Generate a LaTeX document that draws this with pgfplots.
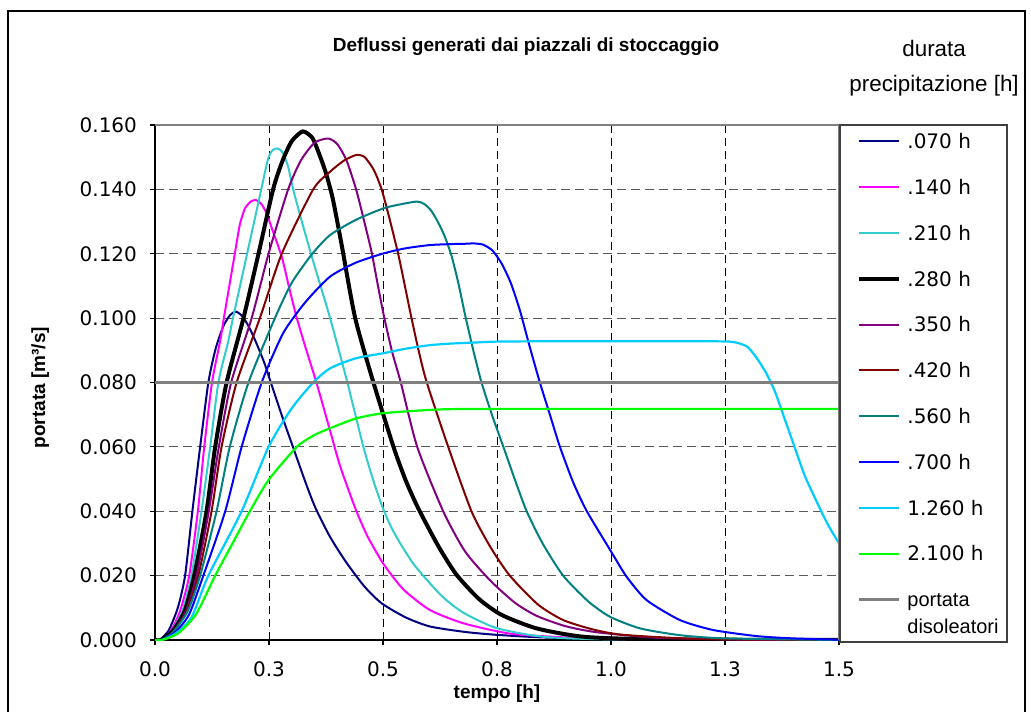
\documentclass[border=0pt]{standalone}
\usepackage{fontspec}
\setmainfont{DejaVu Sans}
\newfontfamily\lib{Liberation Sans}
\usepackage{pgfplots}
\pgfplotsset{compat=1.18}
\definecolor{cNavy}{HTML}{000080}
\definecolor{cMag}{HTML}{FF00FF}
\definecolor{cTurq}{HTML}{33CCCC}
\definecolor{cPurp}{HTML}{800080}
\definecolor{cDred}{HTML}{800000}
\definecolor{cTeal}{HTML}{008080}
\definecolor{cBlue}{HTML}{0000FF}
\definecolor{cLblue}{HTML}{00CCFF}
\definecolor{cGreen}{HTML}{00FF00}
\definecolor{cGray}{HTML}{808080}
\begin{document}
\begin{tikzpicture}
\useasboundingbox (0,0) rectangle (515.5pt,355.5pt);
\begin{axis}[
  at={(77.5pt,35.5pt)}, anchor=south west,
  scale only axis, width=342pt, height=257.5pt,
  xmin=0, xmax=1.5, ymin=0, ymax=0.16,
  axis x line*=bottom, axis y line*=left,
  axis line style={black, line width=0.6pt},
  xtick={0,0.25,0.5,0.75,1,1.25,1.5},
  xticklabels={0.0,0.3,0.5,0.8,1.0,1.3,1.5},
  ytick={0,0.02,0.04,0.06,0.08,0.1,0.12,0.14,0.16},
  yticklabels={0.000,0.020,0.040,0.060,0.080,0.100,0.120,0.140,0.160},
  tick align=outside, major tick length=2.5pt,
  tick style={black, line width=0.6pt},
  grid=major,
  x grid style={black, line width=0.5pt, dash pattern=on 4pt off 2.5pt},
  y grid style={black!65, line width=0.6pt, dash pattern=on 4.5pt off 2.5pt},
  ticklabel style={font=\fontsize{10}{12}\selectfont},
  /pgf/number format/assume math mode=true,
  xticklabel style={yshift=-5pt},
  yticklabel style={xshift=-3pt},
  clip mode=individual,
  every axis plot/.append style={smooth, tension=0.4},
  legend cell align=left,
  legend style={draw=none, fill=none, at={(axis description cs:1.0263,0.9994)}, anchor=north west,
    inner sep=0pt, row sep=7.2pt, column sep=0pt,
    nodes={inner xsep=3pt, inner ysep=3pt, text height=8.5pt, text depth=1.2pt,
      font=\fontsize{10}{13.5}\selectfont}},
  legend image code/.code={\draw[#1,sharp plot] (0pt,0pt) -- (20pt,0pt);},
]
\addplot[cNavy, line width=1pt] coordinates {(0,0)(0.01,0)(0.03,0.003)(0.05,0.010)(0.066,0.020)(0.082,0.040)(0.099,0.060)(0.117,0.080)(0.133,0.0905)(0.150,0.0975)(0.165,0.101)(0.178,0.102)(0.192,0.1005)(0.207,0.097)(0.223,0.092)(0.240,0.086)(0.254,0.080)(0.280,0.069)(0.305,0.059)(0.330,0.049)(0.352,0.041)(0.384,0.032)(0.420,0.024)(0.460,0.0165)(0.497,0.0114)(0.550,0.0070)(0.603,0.0042)(0.680,0.0025)(0.750,0.0016)(0.850,0.0008)(1.000,0.0003)(1.200,0.0001)(1.500,0)};
\addlegendentry{.070 h}
\addplot[cMag, line width=1pt] coordinates {(0,0)(0.015,0)(0.035,0.003)(0.055,0.009)(0.075,0.020)(0.094,0.040)(0.108,0.060)(0.125,0.080)(0.143,0.093)(0.151,0.100)(0.163,0.110)(0.175,0.120)(0.186,0.129)(0.197,0.134)(0.21,0.1362)(0.2215,0.1367)(0.233,0.1355)(0.245,0.1325)(0.256,0.128)(0.278,0.119)(0.295,0.109)(0.311,0.100)(0.332,0.090)(0.354,0.080)(0.384,0.065)(0.406,0.054)(0.439,0.041)(0.465,0.0325)(0.497,0.0245)(0.525,0.019)(0.55,0.015)(0.603,0.0093)(0.676,0.0052)(0.778,0.002)(0.9,0.0008)(1.05,0.0002)(1.5,0)};
\addlegendentry{.140 h}
\addplot[cTurq, line width=1pt] coordinates {(0,0)(0.015,0)(0.035,0.0025)(0.06,0.009)(0.08,0.02)(0.102,0.04)(0.121,0.06)(0.139,0.08)(0.161,0.093)(0.171,0.10)(0.202,0.12)(0.233,0.14)(0.248,0.1495)(0.258,0.1522)(0.269,0.1527)(0.280,0.1515)(0.292,0.147)(0.303,0.140)(0.322,0.130)(0.342,0.120)(0.363,0.110)(0.384,0.100)(0.42,0.081)(0.457,0.060)(0.48,0.049)(0.501,0.0405)(0.52,0.0345)(0.54,0.0295)(0.565,0.024)(0.588,0.020)(0.63,0.0135)(0.676,0.0085)(0.749,0.0037)(0.852,0.001)(1.0,0.0002)(1.5,0)};
\addlegendentry{.210 h}
\addplot[black, line width=2pt] coordinates {(0,0)(0.015,0)(0.04,0.003)(0.065,0.009)(0.086,0.02)(0.113,0.04)(0.132,0.06)(0.157,0.08)(0.194,0.10)(0.227,0.12)(0.259,0.14)(0.28,0.149)(0.30,0.155)(0.324,0.158)(0.345,0.156)(0.36,0.151)(0.375,0.145)(0.39,0.137)(0.409,0.123)(0.439,0.10)(0.479,0.08)(0.523,0.06)(0.55,0.0495)(0.577,0.041)(0.62,0.0295)(0.66,0.0205)(0.71,0.0128)(0.76,0.0078)(0.837,0.0036)(0.94,0.001)(1.1,0.0002)(1.5,0)};
\addlegendentry{.280 h}
\addplot[cPurp, line width=1pt] coordinates {(0,0)(0.015,0)(0.04,0.0025)(0.068,0.009)(0.091,0.02)(0.118,0.04)(0.140,0.06)(0.167,0.08)(0.212,0.10)(0.249,0.12)(0.292,0.14)(0.32,0.149)(0.35,0.1545)(0.380,0.1558)(0.40,0.154)(0.42,0.149)(0.441,0.14)(0.458,0.1305)(0.475,0.1205)(0.489,0.110)(0.503,0.100)(0.52,0.0895)(0.539,0.08)(0.575,0.06)(0.632,0.04)(0.68,0.0275)(0.735,0.0185)(0.79,0.0115)(0.837,0.0075)(0.9,0.0043)(0.969,0.0024)(1.1,0.0007)(1.3,0.0001)(1.5,0)};
\addlegendentry{.350 h}
\addplot[cDred, line width=1pt] coordinates {(0,0)(0.015,0)(0.04,0.0025)(0.07,0.009)(0.095,0.02)(0.124,0.04)(0.146,0.06)(0.179,0.08)(0.230,0.10)(0.278,0.12)(0.347,0.14)(0.384,0.1455)(0.415,0.149)(0.442,0.1507)(0.46,0.15)(0.48,0.146)(0.497,0.14)(0.515,0.1305)(0.534,0.1195)(0.548,0.110)(0.561,0.101)(0.578,0.090)(0.596,0.080)(0.643,0.06)(0.694,0.04)(0.735,0.029)(0.778,0.02)(0.84,0.011)(0.895,0.0062)(0.96,0.0033)(1.027,0.0016)(1.2,0.0003)(1.5,0)};
\addlegendentry{.420 h}
\addplot[cTeal, line width=1pt] coordinates {(0,0)(0.015,0)(0.04,0.0025)(0.072,0.009)(0.099,0.02)(0.135,0.04)(0.164,0.06)(0.205,0.08)(0.263,0.10)(0.30,0.111)(0.345,0.12)(0.384,0.1258)(0.44,0.1305)(0.501,0.1341)(0.54,0.1354)(0.574,0.1362)(0.59,0.1355)(0.605,0.1335)(0.62,0.130)(0.635,0.1255)(0.65,0.1195)(0.665,0.111)(0.68,0.101)(0.698,0.090)(0.716,0.080)(0.74,0.0695)(0.764,0.060)(0.79,0.0495)(0.815,0.040)(0.85,0.030)(0.895,0.020)(0.95,0.012)(0.998,0.0072)(1.064,0.0036)(1.151,0.0015)(1.25,0.0005)(1.5,0)};
\addlegendentry{.560 h}
\addplot[cBlue, line width=1pt] coordinates {(0,0)(0.015,0)(0.045,0.0025)(0.075,0.008)(0.106,0.02)(0.154,0.04)(0.19,0.06)(0.234,0.08)(0.281,0.0953)(0.33,0.105)(0.384,0.1129)(0.44,0.1172)(0.501,0.1201)(0.55,0.1217)(0.603,0.1227)(0.65,0.123)(0.68,0.1231)(0.70,0.1232)(0.72,0.1228)(0.74,0.121)(0.76,0.117)(0.78,0.111)(0.80,0.1025)(0.82,0.092)(0.844,0.080)(0.866,0.070)(0.888,0.060)(0.917,0.049)(0.947,0.040)(0.998,0.028)(1.034,0.0197)(1.078,0.0124)(1.151,0.0062)(1.224,0.0031)(1.32,0.0012)(1.4,0.0005)(1.5,0.0001)};
\addlegendentry{.700 h}
\addplot[cLblue, line width=1.1pt] coordinates {(0,0)(0.015,0)(0.045,0.002)(0.08,0.007)(0.117,0.02)(0.19,0.04)(0.249,0.06)(0.30,0.072)(0.347,0.08)(0.384,0.0844)(0.44,0.0875)(0.501,0.0891)(0.55,0.0905)(0.603,0.0916)(0.65,0.0921)(0.70,0.0924)(0.749,0.0927)(0.85,0.0928)(0.95,0.0928)(1.05,0.0928)(1.15,0.0928)(1.22,0.0928)(1.26,0.0927)(1.28,0.0922)(1.30,0.091)(1.32,0.0875)(1.34,0.083)(1.36,0.077)(1.38,0.069)(1.40,0.061)(1.425,0.051)(1.451,0.043)(1.475,0.036)(1.5,0.030)};
\addlegendentry{1.260 h}
\addplot[cGreen, line width=1.1pt] coordinates {(0,0)(0.015,0)(0.05,0.002)(0.09,0.008)(0.132,0.02)(0.17,0.03)(0.208,0.04)(0.249,0.0497)(0.311,0.06)(0.35,0.0637)(0.384,0.0658)(0.44,0.0688)(0.497,0.0704)(0.57,0.0712)(0.64,0.0717)(0.75,0.0718)(0.9,0.0718)(1.05,0.0718)(1.2,0.0718)(1.35,0.0718)(1.5,0.0718)};
\addlegendentry{2.100 h}
\addplot[cGray, line width=1.5pt, sharp plot] coordinates {(0,0.08)(1.5,0.08)};
\addlegendentry{\lib\begin{tabular}[t]{@{}l@{}}portata\\disoleatori\end{tabular}}
% plot area border and legend frame
\draw[cGray, line width=1pt] (rel axis cs:0,1) -- (rel axis cs:1,1);
\draw[cGray, line width=1.5pt] (rel axis cs:1,0) -- (rel axis cs:1,1);
\draw[black!75, line width=0.6pt] (axis description cs:1.0015,1) rectangle (axis description cs:1.2456,-0.0039);
% texts
\node[font=\lib\bfseries\fontsize{9.5}{11}\selectfont] at (axis description cs:0.5424,1.1515) {Deflussi generati dai piazzali di stoccaggio};
\node[font=\lib\fontsize{11.2}{13}\selectfont] at (axis description cs:1.139,1.149) {durata};
\node[font=\lib\fontsize{11.2}{13}\selectfont] at (axis description cs:1.139,1.077) {precipitazione [h]};
\node[font=\lib\bfseries\fontsize{9.5}{11}\selectfont, rotate=90] at (axis description cs:-0.168,0.49) {portata [m³/s]};
\node[font=\lib\bfseries\fontsize{9.5}{11}\selectfont] at (axis description cs:0.5,-0.1049) {tempo [h]};
\end{axis}
\draw[black, line width=0.8pt] (4pt,-3pt) -- (4pt,350pt) -- (512.5pt,350pt) -- (512.5pt,-3pt);
\end{tikzpicture}
\end{document}
